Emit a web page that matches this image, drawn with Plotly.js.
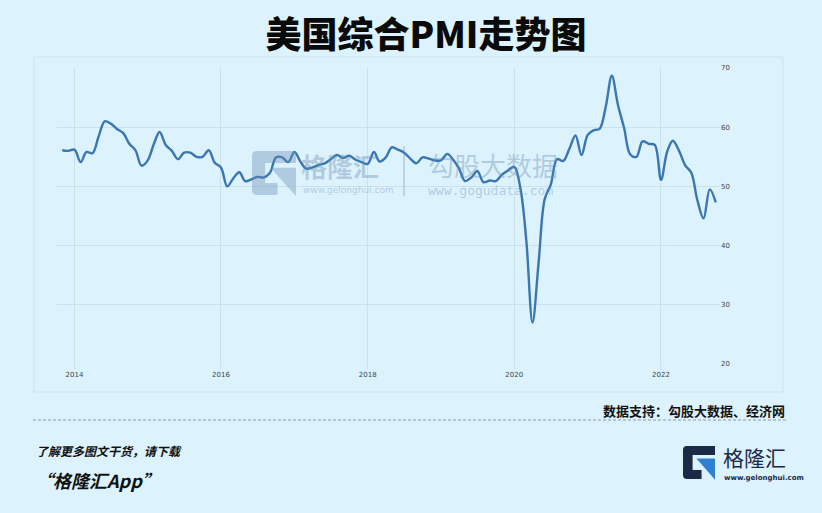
<!DOCTYPE html>
<html>
<head>
<meta charset="utf-8">
<script src="https://cdn.plot.ly/plotly-3.0.1.min.js"></script>
<style>
  html, body { margin: 0; padding: 0; background: #dcf2fd; }
  #chart { width: 822px; height: 513px; }
</style>
</head>
<body>
<div id="chart"></div>
<script>
// US composite PMI, monthly readings
const months = [
  '2013-11-01','2013-12-01',
  '2014-01-01','2014-02-01','2014-03-01','2014-04-01','2014-05-01','2014-06-01',
  '2014-07-01','2014-08-01','2014-09-01','2014-10-01','2014-11-01','2014-12-01',
  '2015-01-01','2015-02-01','2015-03-01','2015-04-01','2015-05-01','2015-06-01',
  '2015-07-01','2015-08-01','2015-09-01','2015-10-01','2015-11-01','2015-12-01',
  '2016-01-01','2016-02-01','2016-03-01','2016-04-01','2016-05-01','2016-06-01',
  '2016-07-01','2016-08-01','2016-09-01','2016-10-01','2016-11-01','2016-12-01',
  '2017-01-01','2017-02-01','2017-03-01','2017-04-01','2017-05-01','2017-06-01',
  '2017-07-01','2017-08-01','2017-09-01','2017-10-01','2017-11-01','2017-12-01',
  '2018-01-01','2018-02-01','2018-03-01','2018-04-01','2018-05-01','2018-06-01',
  '2018-07-01','2018-08-01','2018-09-01','2018-10-01','2018-11-01','2018-12-01',
  '2019-01-01','2019-02-01','2019-03-01','2019-04-01','2019-05-01','2019-06-01',
  '2019-07-01','2019-08-01','2019-09-01','2019-10-01','2019-11-01','2019-12-01',
  '2020-01-01','2020-02-01','2020-03-01','2020-04-01','2020-05-01','2020-06-01',
  '2020-07-01','2020-08-01','2020-09-01','2020-10-01','2020-11-01','2020-12-01',
  '2021-01-01','2021-02-01','2021-03-01','2021-04-01','2021-05-01','2021-06-01',
  '2021-07-01','2021-08-01','2021-09-01','2021-10-01','2021-11-01','2021-12-01',
  '2022-01-01','2022-02-01','2022-03-01','2022-04-01','2022-05-01','2022-06-01',
  '2022-07-01','2022-08-01','2022-09-01','2022-10-01'
];

const pmi = [
  56.1, 56.0,
  56.2, 54.1, 55.8, 55.6, 58.4, 61.0, 60.6, 59.7, 59.0, 57.2, 56.1, 53.5,
  54.4, 57.2, 59.2, 57.0, 56.0, 54.6, 55.7, 55.7, 55.0, 55.0, 56.1, 54.0,
  53.2, 50.0, 51.3, 52.4, 50.9, 51.2, 51.6, 51.5, 52.3, 54.9, 54.9, 54.1,
  55.8, 54.1, 53.0, 53.2, 53.6, 53.9, 54.6, 55.3, 54.8, 55.2, 54.5, 54.1,
  53.8, 55.8, 54.2, 54.9, 56.6, 56.2, 55.7, 54.7, 53.9, 54.9, 54.7, 54.4,
  54.4, 55.5, 54.6, 53.0, 50.9, 51.5, 52.6, 50.7, 51.0, 50.9, 52.0, 52.7,
  53.3, 49.6, 40.9, 27.0, 37.0, 47.9, 50.3, 54.6, 54.3, 56.3, 58.6, 55.3,
  58.7, 59.5, 59.7, 63.5, 68.7, 63.7, 59.9, 55.4, 55.0, 57.6, 57.2, 57.0,
  51.1, 55.9, 57.7, 56.0, 53.6, 52.3, 47.7, 44.6, 49.5, 47.3
];

const titleText = '美国综合PMI走势图';
const sourceText = '数据支持：勾股大数据、经济网';
const promoLine1 = '了解更多图文干货，请下载';
const promoLine2 = '“格隆汇App”';
const brandName = '格隆汇';
const brandUrl = 'www.gelonghui.com';
const dataBrand = '勾股大数据';
const dataUrl = 'www.gogudata.com';

// page geometry (pixels) of the plotting area
const W = 822, H = 513;
const PL = 57, PR = 720, PT = 68, PB = 364;
const fx = p => (p - PL) / (PR - PL);
const fy = p => (PB - p) / (PB - PT);

const bg = '#dcf2fd';
const grid = '#cbe2ee';
const cjk = '"Noto Sans CJK SC", "Noto Sans", sans-serif';

// build a closed path (paper coords) from unit-square points placed in a pixel box
function iconPath(cmds, x0, y0, w, h) {
  return cmds.map(c => {
    if (c === 'Z') return 'Z';
    const [op, ...nums] = c;
    const out = [];
    for (let i = 0; i < nums.length; i += 2) {
      out.push(fx(x0 + nums[i] * w).toFixed(5) + ',' + fy(y0 + nums[i + 1] * h).toFixed(5));
    }
    return op + out.join(' ');
  }).join(' ');
}
const gFrame = [
  ['M', 0.12, 0], ['L', 1, 0], ['L', 1, 0.27], ['L', 0.3, 0.27], ['L', 0.3, 0.73],
  ['L', 0.58, 0.73], ['L', 0.58, 1], ['L', 0.12, 1], ['Q', 0, 1, 0, 0.88],
  ['L', 0, 0.12], ['Q', 0, 0, 0.12, 0], 'Z'
];
const gArrow = [['M', 0.42, 0.38], ['L', 1, 0.38], ['L', 1, 1.02], 'Z'];

const wm = 'rgba(105,140,175,0.38)';
const shapes = [
  // light frame around the chart block
  { type: 'rect', xref: 'paper', yref: 'paper', x0: fx(34), x1: fx(783), y0: fy(392), y1: fy(57),
    line: { color: '#cfe3ee', width: 1 }, fillcolor: 'rgba(0,0,0,0)', layer: 'below' },
  // watermark icon
  { type: 'path', xref: 'paper', yref: 'paper', path: iconPath(gFrame, 252, 151, 44, 44),
    fillcolor: wm, line: { width: 0 } },
  { type: 'path', xref: 'paper', yref: 'paper', path: iconPath(gArrow, 252, 151, 44, 44),
    fillcolor: wm, line: { width: 0 } },
  // watermark divider
  { type: 'line', xref: 'paper', yref: 'paper', x0: fx(404), x1: fx(404), y0: fy(196), y1: fy(146),
    line: { color: wm, width: 1.5 } },
  // dashed separator above the footer
  { type: 'line', xref: 'paper', yref: 'paper', x0: fx(33), x1: fx(787), y0: fy(420), y1: fy(420),
    line: { color: '#8d9aa3', width: 1, dash: '3px,2px' } },
  // footer brand icon
  { type: 'path', xref: 'paper', yref: 'paper', path: iconPath(gFrame, 683, 446, 32, 33),
    fillcolor: '#1b2b45', line: { width: 0 } },
  { type: 'path', xref: 'paper', yref: 'paper', path: iconPath(gArrow, 683, 446, 32, 33),
    fillcolor: '#2f80d1', line: { width: 0 } }
];

function note(text, x, y, size, opts) {
  return Object.assign({
    text: text, xref: 'paper', yref: 'paper', x: fx(x), y: fy(y), showarrow: false,
    xanchor: 'left', yanchor: 'middle',
    font: { family: cjk, size: size, color: '#111' }
  }, opts || {});
}

const annotations = [
  note(brandName, 299, 165, 26, { font: { family: cjk, size: 26, color: wm, weight: 'bold' } }),
  note(brandUrl, 301, 190, 9, { font: { family: 'DejaVu Sans, sans-serif', size: 9, color: wm } }),
  note(dataBrand, 426, 164, 26, { font: { family: cjk, size: 26, color: wm } }),
  note(dataUrl, 426, 190, 13, { font: { family: 'DejaVu Sans Mono, monospace', size: 13, color: wm } }),
  note(sourceText, 787, 410, 13, { xanchor: 'right', font: { family: cjk, size: 13, color: '#111', weight: 'bold' } }),
  note(promoLine1, 34, 450, 12, { font: { family: cjk, size: 12, color: '#111', weight: 'bold', style: 'italic' } }),
  note(promoLine2, 33, 480, 18, { font: { family: cjk, size: 18, color: '#111', weight: 'bold', style: 'italic' } }),
  note(brandName, 721, 457, 21, { font: { family: cjk, size: 21, color: '#1b2b45' } }),
  note(brandUrl, 722, 477.5, 7, { font: { family: 'DejaVu Sans, sans-serif', size: 7, color: '#1b2b45', weight: 'bold' } })
];

const trace = {
  x: months, y: pmi, type: 'scatter', mode: 'lines',
  line: { color: '#3a77b1', width: 2.4, shape: 'spline', smoothing: 1 },
  hoverinfo: 'x+y'
};

const layout = {
  width: W, height: H,
  margin: { l: PL, r: W - PR, t: PT, b: H - PB, pad: 0 },
  paper_bgcolor: bg, plot_bgcolor: bg,
  showlegend: false,
  title: {
    text: titleText, xref: 'container', yref: 'container',
    x: 426 / W, xanchor: 'center', y: 1 - 35 / H, yanchor: 'middle',
    font: { family: cjk, size: 36, color: '#0a0a0a', weight: 900 }
  },
  xaxis: {
    type: 'date', range: ['2013-10-06', '2022-10-22'],
    tick0: '2014-01-01', dtick: 'M24', tickformat: '%Y',
    showgrid: true, gridcolor: grid, gridwidth: 1,
    ticks: 'outside', ticklen: 4, tickcolor: grid,
    tickfont: { family: 'DejaVu Sans, sans-serif', size: 7, color: '#3c4650' },
    showline: false, zeroline: false, fixedrange: true
  },
  yaxis: {
    range: [20, 70], dtick: 10, side: 'right',
    showgrid: true, gridcolor: grid, gridwidth: 1,
    ticks: '', tickfont: { family: 'DejaVu Sans, sans-serif', size: 7, color: '#3c4650' },
    showline: false, zeroline: false, fixedrange: true
  },
  shapes: shapes,
  annotations: annotations
};

Plotly.newPlot('chart', [trace], layout, { displayModeBar: false, staticPlot: true });
</script>
</body>
</html>
